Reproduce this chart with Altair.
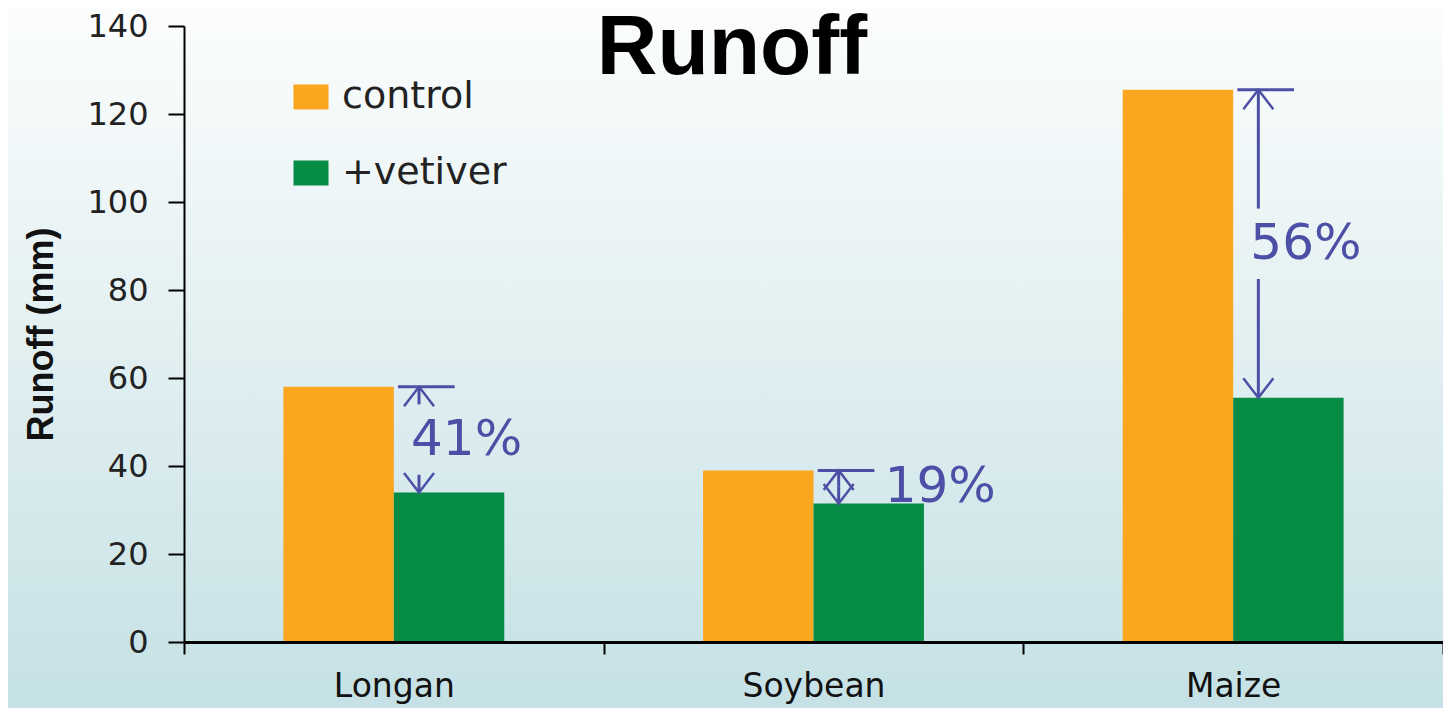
import altair as alt
import pandas as pd

# ---- data ----
crops = ["Longan", "Soybean", "Maize"]
treatments = ["control", "+vetiver"]
control = [58, 39, 125.5]
vetiver = [34, 31.5, 55.5]
reduction = ["41%", "19%", "56%"]
y_ticks = [0, 20, 40, 60, 80, 100, 120, 140]
title_text = ["Runoff"]
y_title = "Runoff (mm)"

bars_df = pd.DataFrame({
    "crop": crops * 2,
    "treatment": [treatments[0]] * 3 + [treatments[1]] * 3,
    "runoff": control + vetiver,
})
ann_df = pd.DataFrame({"crop": crops, "control": control, "vetiver": vetiver, "label": reduction})
title_df = pd.DataFrame({"t": title_text})
bg_df = pd.DataFrame({"k": [0]})

# ---- layout ----
W, H = 1259, 616
PAD_L, PAD_T, PAD_R, PAD_B = 176, 18, 0, 66
ORANGE, GREEN, ARROW = "#FAA61F", "#078C45", "#4B4FA5"

bg = alt.Chart(bg_df).mark_rect(
    fill=alt.LinearGradient(
        gradient="linear",
        stops=[alt.GradientStop(color="#FCFDFD", offset=0),
               alt.GradientStop(color="#E1EFF1", offset=0.5),
               alt.GradientStop(color="#C5E1E5", offset=1)],
        x1=0, x2=0, y1=0, y2=1),
).encode(x=alt.value(-PAD_L), x2=alt.value(W + PAD_R), y=alt.value(-PAD_T), y2=alt.value(H + PAD_B))

x_scale = alt.Scale(paddingInner=0, paddingOuter=0)
y_scale = alt.Scale(domain=[0, 140], nice=False)
x_axis = alt.Axis(
    title=None, zindex=1, labelAngle=0, tickBand="extent", labelFont="DejaVu Sans",
    labelFontSize=33, labelColor="#111", tickSize=12, tickWidth=2, tickColor="#000",
    domainColor="#000", domainWidth=3, labelPadding=16, grid=False,
)
y_axis = alt.Axis(
    values=y_ticks, title=y_title, zindex=1, titleFont="Liberation Sans", titleFontWeight="bold",
    titleFontSize=36, titleColor="#111", titlePadding=26, labelFont="DejaVu Sans",
    labelFontSize=32, labelColor="#222", tickSize=16, tickWidth=2, tickColor="#000",
    domainColor="#000", domainWidth=2, labelPadding=20, grid=False,
)


def xb(pos=None):
    if pos is None:
        return alt.X("crop:N", sort=crops, scale=x_scale, axis=x_axis)
    return alt.X("crop:N", sort=crops, scale=x_scale, axis=x_axis, bandPosition=pos)


def yq(f):
    return alt.Y(f, scale=y_scale, axis=y_axis)


bars = alt.Chart(bars_df).mark_bar().encode(
    x=xb(),
    xOffset=alt.XOffset("treatment:N", sort=treatments,
                        scale=alt.Scale(paddingInner=0, paddingOuter=0.9)),
    y=yq("runoff:Q"),
    color=alt.Color(
        "treatment:N", sort=treatments,
        scale=alt.Scale(domain=treatments, range=[ORANGE, GREEN]),
        legend=alt.Legend(title=None, orient="none", legendX=108, legendY=52,
                          symbolType="M-1,-0.714L1,-0.714L1,0.714L-1,0.714Z", symbolSize=1225,
                          symbolStrokeWidth=0, labelFont="DejaVu Sans", labelFontSize=38,
                          labelColor="#222", rowPadding=38, labelOffset=12, labelLimit=0),
    ),
)

ann = alt.Chart(ann_df).transform_calculate(
    mid="(datum.control + datum.vetiver) / 2",
    side="datum.control - datum.vetiver < 15",
).transform_calculate(
    gap="datum.side ? 0 : 8",
).transform_calculate(
    up_end="datum.mid + datum.gap",
    dn_start="datum.mid - datum.gap",
)

AX = 0.56
shaft_top = ann.mark_rule(color=ARROW, strokeWidth=3).encode(x=xb(AX), y=yq("control:Q"), y2="up_end:Q")
shaft_bot = ann.mark_rule(color=ARROW, strokeWidth=3).encode(x=xb(AX), y=yq("dn_start:Q"), y2="vetiver:Q")
cap = ann.mark_rule(color=ARROW, strokeWidth=3).encode(
    x=xb(0.51),
    x2=alt.X2("crop:N", bandPosition=0.645),
    y=yq("control:Q"),
)
up_head = ann.mark_point(shape="M-1,1.3L0,0L1,1.3", filled=False, size=900, strokeWidth=2.5,
                         color=ARROW, opacity=1).encode(x=xb(AX), y=yq("control:Q"))
dn_head = ann.mark_point(shape="M-1,-1.3L0,0L1,-1.3", filled=False, size=900, strokeWidth=2.5,
                         color=ARROW, opacity=1).encode(x=xb(AX), y=yq("vetiver:Q"))
lab_mid = ann.transform_filter("!datum.side").mark_text(
    align="left", baseline="middle", font="DejaVu Sans", fontSize=50, color=ARROW, dx=-8
).encode(x=xb(AX), y=yq("mid:Q"), text="label:N")
lab_side = ann.transform_filter("datum.side").mark_text(
    align="left", baseline="middle", font="DejaVu Sans", fontSize=50, color=ARROW, dx=46
).encode(x=xb(AX), y=yq("mid:Q"), text="label:N")

title = alt.Chart(title_df).mark_text(
    font="Liberation Sans", fontSize=84, fontWeight="bold", color="#000",
    align="center", baseline="alphabetic",
).encode(x=alt.value(548), y=alt.value(48), text="t:N")

chart = alt.layer(
    bg, bars, shaft_top, shaft_bot, cap, up_head, dn_head, lab_mid, lab_side, title
).properties(
    width=W, height=H,
    autosize=alt.AutoSizeParams(type="none"),
    padding={"left": PAD_L, "top": PAD_T, "right": PAD_R, "bottom": PAD_B},
).configure_view(stroke=None).configure(background="#FCFDFD")

chart.save("out.html", embed_options={"renderer": "svg", "actions": False})
